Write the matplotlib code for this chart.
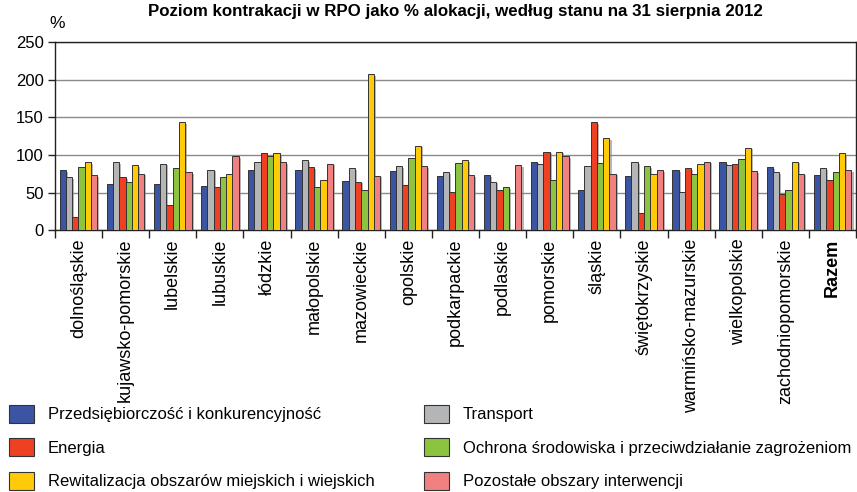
import numpy as np
import matplotlib
matplotlib.use("Agg")
import matplotlib.pyplot as plt
import matplotlib.patheffects as pe
from matplotlib.patches import Patch

regions = ["dolnośląskie", "kujawsko-pomorskie", "lubelskie", "lubuskie", "łódzkie",
           "małopolskie", "mazowieckie", "opolskie", "podkarpackie", "podlaskie",
           "pomorskie", "śląskie", "świętokrzyskie", "warmińsko-mazurskie",
           "wielkopolskie", "zachodniopomorskie", "Razem"]

series_names = ["Przedsiębiorczość i konkurencyjność", "Transport", "Energia",
                "Ochrona środowiska i przeciwdziałanie zagrożeniom",
                "Rewitalizacja obszarów miejskich i wiejskich",
                "Pozostałe obszary interwencji"]

przedsiebiorczosc = [79.5, 62, 61, 59, 80, 80, 65, 78, 72, 73, 91, 54, 72, 79.5, 90, 83.5, 73]
transport = [70, 90, 88, 80, 90, 93, 82, 85, 77, 64, 88, 85, 90, 51, 87, 77, 82]
energia = [17, 70, 33, 57, 102, 83.5, 64, 60.5, 51, 53, 104, 143, 22.5, 82, 88, 48, 67]
ochrona = [83.5, 64, 82, 70, 98, 57, 54, 96, 89, 57, 67, 89, 85, 74, 94, 54, 77]
rewitalizacja = [90, 86, 143, 75, 102, 67, 207, 112, 93, 0, 104, 122, 75, 88, 109, 91, 102]
pozostale = [73, 75, 77, 98, 90, 88, 72, 85, 73, 86, 98, 75, 79.5, 91, 78, 75, 79.5]

colors = ["#3b55a3", "#b3b5b7", "#ee4023", "#8cc43f", "#ffcb08", "#f18080"]

plt.rcParams['font.family'] = ['Liberation Sans', 'DejaVu Sans']

fig = plt.figure(figsize=(8.57, 4.92), dpi=100)
ax = fig.add_axes([0.064, 0.532, 0.935, 0.383])

data = [przedsiebiorczosc, transport, energia, ochrona, rewitalizacja, pozostale]
x = np.arange(len(regions))
w = 0.8 / 6
shadow = [pe.SimplePatchShadow(offset=(1.5, -1.0), shadow_rgbFace="#888888", alpha=0.6), pe.Normal()]
for i, (vals, c) in enumerate(zip(data, colors)):
    bars = ax.bar(x - 0.4 + w * (i + 0.5), vals, width=w, color=c,
                  edgecolor="#333333", linewidth=0.7, zorder=3)
    for b in bars:
        b.set_path_effects(shadow)

ax.set_xlim(-0.5, len(regions) - 0.5)
ax.set_ylim(0, 250)
ax.set_yticks(range(0, 251, 50))
ax.yaxis.grid(True, color="#8a8a8a", linewidth=1.0, zorder=0)
ax.set_axisbelow(True)
for s in ax.spines.values():
    s.set_color("#222222")
    s.set_linewidth(1.0)

ax.set_xticks(x)
ax.set_xticklabels(regions, rotation=90, fontsize=13)
ax.tick_params(axis="x", which="major", length=0, pad=6)
ax.set_xticks(np.arange(-0.5, len(regions) - 0.4, 1), minor=True)
ax.tick_params(axis="x", which="minor", length=6, width=1.0, color="#222222")
ax.tick_params(axis="y", length=5, width=1.0, labelsize=12, pad=3, color="#222222")
ax.get_xticklabels()[-1].set_fontweight("bold")

fig.text(0.531, 0.976, "Poziom kontrakacji w RPO jako % alokacji, według stanu na 31 sierpnia 2012",
         ha="center", va="center", fontsize=12.2, fontweight="bold")
fig.text(0.067, 0.952, "%", ha="center", va="center", fontsize=12.5)

# legend: two columns, order as in the source figure
handles = [Patch(facecolor=c, edgecolor="#333333", linewidth=0.8) for c in colors]
order = [0, 2, 4, 1, 3, 5]
fig.legend([handles[k] for k in order], [series_names[k] for k in order],
           loc="upper left", bbox_to_anchor=(0.003, 0.191), ncol=2, frameon=False,
           fontsize=12, handlelength=1.5, handleheight=1.3, handletextpad=0.8,
           labelspacing=0.92, columnspacing=3.0, borderaxespad=0)

fig.savefig("out.png", dpi=100)
